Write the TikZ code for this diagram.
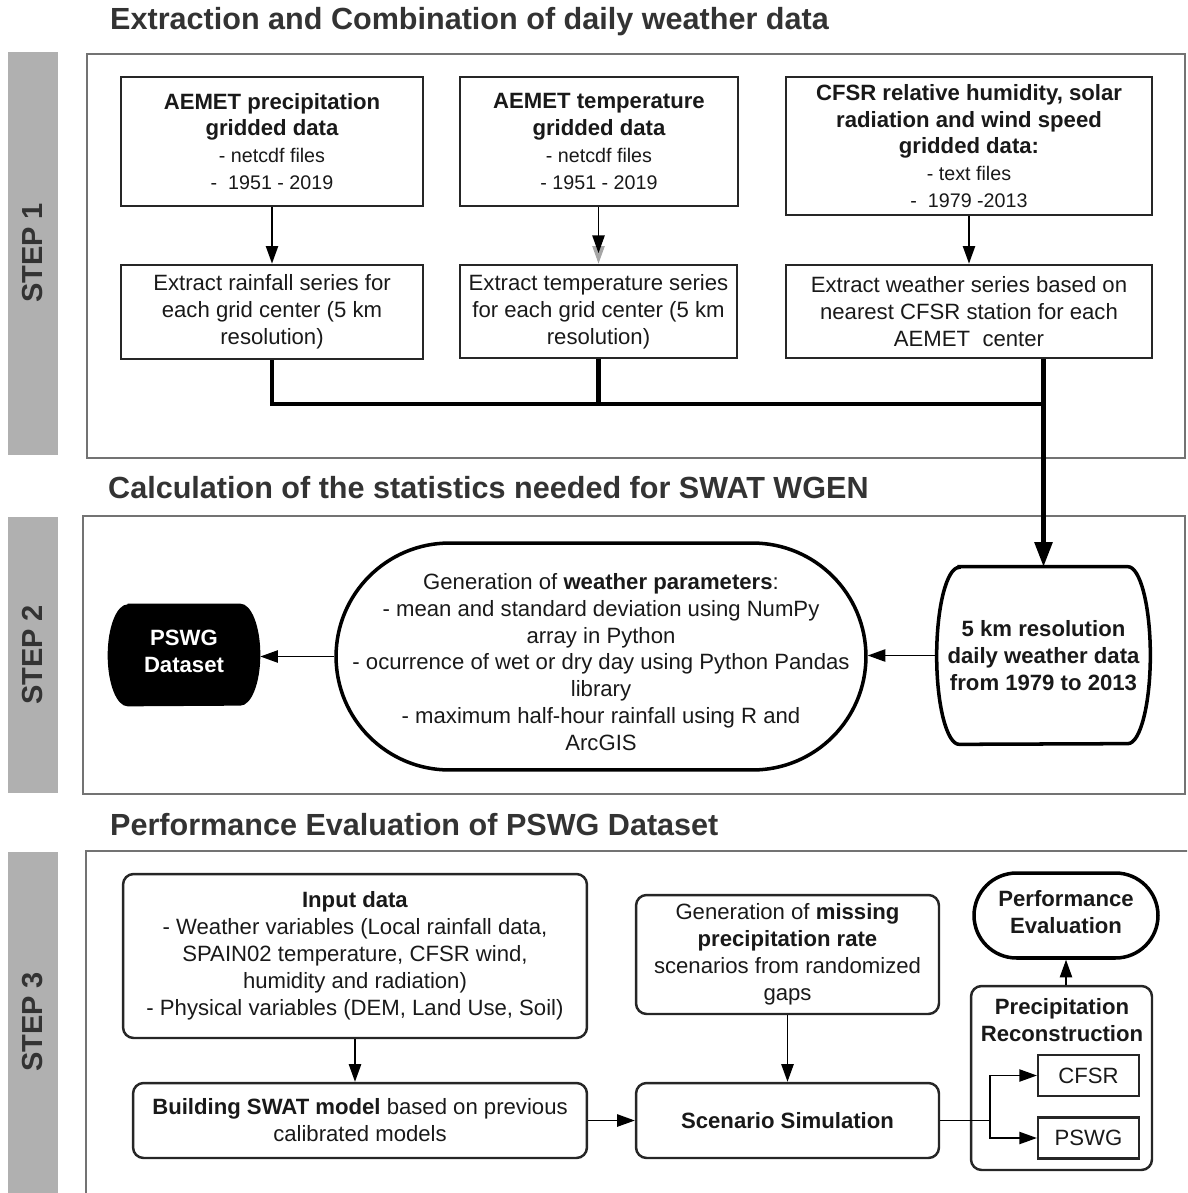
\documentclass[tikz,border=0pt]{standalone}
\usepackage{fontspec}
\setmainfont{Liberation Sans}
\usetikzlibrary{arrows.meta, shapes.misc, positioning, calc}
\definecolor{stepGray}{gray}{0.69}
\definecolor{frameGray}{gray}{0.45}
\definecolor{titleGray}{gray}{0.2}
\definecolor{textBlack}{gray}{0.1}
\newcommand{\smalltxt}{\fontsize{11.2}{15.3}\selectfont}
% outline with half-elliptic left and right sides round a node
\newcommand{\barrelpath}[3]{([xshift=#2]#1.north west) -- ([xshift=-#2]#1.north east)
    arc[start angle=90, end angle=-90, x radius=#2, y radius=#3] -- ([xshift=#2]#1.south west)
    arc[start angle=270, end angle=90, x radius=#2, y radius=#3] -- cycle}

\begin{document}
\begin{tikzpicture}[x=0.02cm, y=-0.02cm, >={Triangle[length=10pt, width=7pt]},
    every node/.style={font=\fontsize{12.6}{15.3}\selectfont, text=textBlack},
    headline/.style={anchor=west, font=\fontsize{17.4}{20}\selectfont\bfseries, text=titleGray},
    stepbar/.style={fill=stepGray, draw=none},
    steplabel/.style={rotate=90, font=\fontsize{16.5}{20}\selectfont\bfseries, text=titleGray},
    stepframe/.style={draw=frameGray, line width=1.1pt},
    databox/.style={draw=black!85, line width=1.6pt, align=center, inner sep=0pt},
    stepbox/.style={draw=black!85, line width=1.4pt, rounded corners=6pt, align=center, inner sep=0pt},
    oval/.style={rounded rectangle, draw=black, line width=2pt, inner sep=0pt},
    barrel/.style={draw=black, line width=2pt},
    boldtxt/.style={font=\fontsize{12.6}{15.3}\selectfont\bfseries, align=center},
    link/.style={->, line width=0.8pt},
    thicklink/.style={line width=2.3pt}]
    \clip (0,0) rectangle (1187,1193);

    % step 1
    \fill[stepbar] (8,52) rectangle (58,455);
    \node[steplabel] (s1) at (33,253) {STEP 1};
    \node[headline] (t1) at (104,22) {Extraction and Combination of daily weather data};
    \draw[stepframe] (87,54) rectangle (1185,458);

    \node[databox, minimum width=6.04cm, minimum height=2.58cm] (precip) at (272,141.5)
        {\textbf{AEMET precipitation}\\\textbf{gridded data}\\{\smalltxt - netcdf files}\\{\smalltxt -\ \ 1951 - 2019}};
    \node[databox, minimum width=5.56cm, minimum height=2.58cm] (tempdata) at (599,141.5)
        {\textbf{AEMET temperature}\\\textbf{gridded data}\\{\smalltxt - netcdf files}\\{\smalltxt - 1951 - 2019}};
    \node[databox, minimum width=7.32cm, minimum height=2.76cm] (cfsrdata) at (969,146)
        {\textbf{CFSR relative humidity, solar}\\\textbf{radiation and wind speed}\\\textbf{gridded data:}\\{\smalltxt - text files}\\{\smalltxt -\ \ 1979 -2013}};
    \node[databox, minimum width=6.04cm, minimum height=1.88cm] (rainfall) at (272,312)
        {Extract rainfall series for\\each grid center (5 km\\resolution)};
    \node[databox, minimum width=5.54cm, minimum height=1.86cm] (temp) at (598.5,311.5)
        {Extract temperature series\\for each grid center (5 km\\resolution)};
    \node[databox, minimum width=7.32cm, minimum height=1.86cm] (weather) at (969,311.5)
        {Extract weather series based on\\nearest CFSR station for each\\AEMET\ \ center};

    \draw[link] (precip.south) -- (rainfall.north);
    \draw[link, gray!70] (tempdata.south -| temp.north) -- (temp.north);
    \draw[link, shorten >=6pt] (tempdata.south -| temp.north) -- (temp.north);
    \draw[link] (cfsrdata.south) -- (weather.north);

    \coordinate (join) at (1043.5,404);
    \draw[thicklink] (rainfall.south) |- (join);
    \draw[thicklink] (temp.south) -- (temp.south |- join);

    % step 2
    \fill[stepbar] (8,517) rectangle (58,793);
    \node[steplabel] (s2) at (33,655) {STEP 2};
    \node[headline] (t2) at (102,488) {Calculation of the statistics needed for SWAT WGEN};
    \draw[stepframe] (83,516) rectangle (1185,794);

    \node[minimum width=3.04cm, minimum height=2.04cm, inner sep=0pt] (pswgd) at (184,655) {};
    \fill[black] \barrelpath{pswgd}{0.4cm}{1.02cm};
    \node[boldtxt, text=white] (pswgdtext) at (184,651.5) {PSWG\\Dataset};

    \node[oval, minimum width=10.6cm, minimum height=4.54cm] (genshape) at (601,656.5) {};
    \node[align=center] (gen) at (601,662)
        {Generation of \textbf{weather parameters}:\\- mean and standard deviation using NumPy\\array in Python\\- ocurrence of wet or dry day using Python Pandas\\library\\- maximum half-hour rainfall using R and\\ArcGIS};

    \node[boldtxt, minimum width=4.26cm, minimum height=3.54cm, inner sep=0pt] (daily) at (1043.5,655.5)
        {5 km resolution\\daily weather data\\from 1979 to 2013};
    \draw[barrel] \barrelpath{daily}{0.45cm}{1.77cm};

    \draw[thicklink, -{Triangle[length=14pt, width=10pt]}] (weather.south -| join) -- (join) -- (daily.north);
    \draw[link] (daily.west) -- (daily.west -| genshape.east);
    \draw[link] (genshape.west) -- (genshape.west -| pswgd.east);

    % step 3
    \fill[stepbar] (8,852) rectangle (58,1200);
    \node[steplabel] (s3) at (33,1022) {STEP 3};
    \node[headline] (t3) at (104,825) {Performance Evaluation of PSWG Dataset};
    \draw[stepframe] (86,851) rectangle (1190,1200);

    \node[stepbox, minimum width=9.28cm, minimum height=3.28cm] (input) at (355,956)
        {\textbf{Input data}\\- Weather variables (Local rainfall data,\\SPAIN02 temperature, CFSR wind,\\humidity and radiation)\\- Physical variables (DEM, Land Use, Soil)};
    \node[stepbox, minimum width=9.08cm, minimum height=1.5cm] (build) at (360,1120.5)
        {\textbf{Building SWAT model} based on previous\\calibrated models};
    \node[stepbox, minimum width=6.06cm, minimum height=2.38cm] (missing) at (787.5,954.5)
        {Generation of \textbf{missing}\\\textbf{precipitation rate}\\scenarios from randomized\\gaps};
    \node[stepbox, minimum width=6.06cm, minimum height=1.5cm] (scen) at (787.5,1120.5)
        {\textbf{Scenario Simulation}};
    \node[oval, minimum width=3.68cm, minimum height=1.7cm] (perf) at (1066,915.5) {};
    \node[boldtxt] (perftext) at (1066,912.5) {Performance\\Evaluation};
    \node[stepbox, minimum width=3.62cm, minimum height=3.68cm] (recon) at (1061.5,1078) {};
    \node[boldtxt] (recontext) at (1062,1020.5) {Precipitation\\Reconstruction};
    \node[draw=black!85, line width=1.3pt, minimum width=2.02cm, minimum height=0.82cm] (cfsr) at (1088.5,1075.5) {CFSR};
    \node[draw=black!85, line width=1.3pt, minimum width=2.02cm, minimum height=0.82cm] (pswg) at (1088.5,1138) {PSWG};

    \draw[link] (input.south) -- (input.south |- build.north);
    \draw[link] (missing.south) -- (scen.north);
    \draw[link] (build.east) -- (scen.west);
    \coordinate (split) at (990,1120.5);
    \draw[line width=0.8pt] (scen.east) -- (split);
    \draw[link] (split) |- (cfsr.west);
    \draw[link] (split) |- (pswg.west);
    \draw[link] (recon.north -| perf.south) -- (perf.south);
\end{tikzpicture}
\end{document}
